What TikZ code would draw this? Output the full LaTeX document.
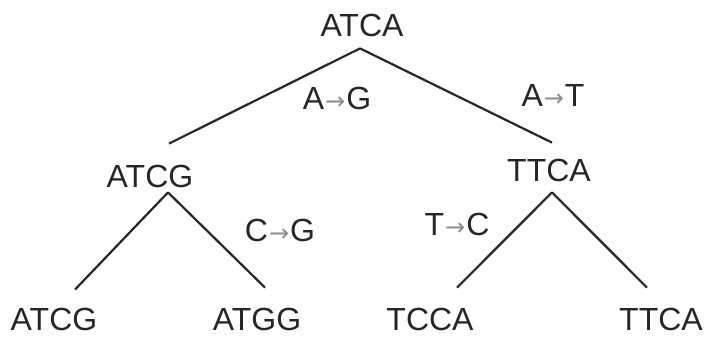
\documentclass[tikz,border=0pt]{standalone}
\usepackage{xcolor}
\usepackage{fontspec}
\setmainfont{Liberation Sans}
\newfontfamily\arrowfont{DejaVu Sans}
\usepackage{tikz}
\usetikzlibrary{positioning}

\newcommand{\mutate}[2]{#1\hspace{0.5pt}{\arrowfont\fontsize{12}{12}\selectfont\color{black!45}→}\hspace{0.5pt}#2}

\begin{document}
\begin{tikzpicture}[
    x=0.5pt, y=-0.5pt,
    seq/.style  = {font=\fontsize{16}{18}\selectfont, inner sep=0pt,
                   text height=11.5pt, text depth=0pt, text=black!85},
    mut/.style  = {seq},
    edge/.style = {draw=black!85, line width=1.1pt},
]
\useasboundingbox (0,0) rectangle (707,338);

%============================ SEQUENCES =============================
\node[seq] (root) at (362,25)  {ATCA};
\node[seq] (mL)   at (150,176) {ATCG};
\node[seq] (mR)   at (549,170) {TTCA};
\node[seq] (l1)   at (54,319)  {ATCG};
\node[seq] (l2)   at (257,319) {ATGG};
\node[seq] (l3)   at (430,319) {TCCA};
\node[seq] (l4)   at (661,319) {TTCA};

%============================ MUTATIONS =============================
\node[mut] (mAG) at (337,98)  {\mutate{A}{G}};
\node[mut] (mAT) at (553,95)  {\mutate{A}{T}};
\node[mut] (mCG) at (280,230) {\mutate{C}{G}};
\node[mut] (mTC) at (457,224) {\mutate{T}{C}};

%============================ BRANCHES ==============================
\draw[edge] ([shift={(-2,11.5)}]root.south) -- ([shift={(19,-20.5)}]mL.north);
\draw[edge] ([shift={(-2,11.5)}]root.south) -- ([shift={(3,-15.5)}]mR.north);
\draw[edge] ([shift={(18,4.5)}]mL.south) -- ([shift={(21,-17.5)}]l1.north);
\draw[edge] ([shift={(18,4.5)}]mL.south) -- ([shift={(8,-19.5)}]l2.north);
\draw[edge] ([shift={(3,10.5)}]mR.south) -- ([shift={(27,-19.5)}]l3.north);
\draw[edge] ([shift={(3,10.5)}]mR.south) -- ([shift={(-14,-19.5)}]l4.north);

\end{tikzpicture}
\end{document}
